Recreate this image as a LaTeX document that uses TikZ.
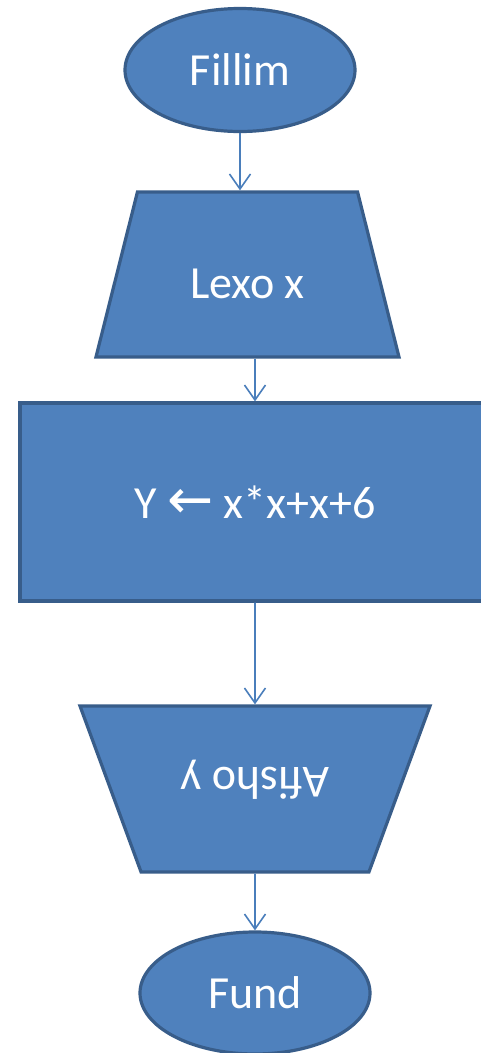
\documentclass[tikz,border=0pt]{standalone}
\usepackage{fontspec}
\setmainfont{Carlito}
\newfontfamily\symfont{DejaVu Sans}
\usetikzlibrary{shapes.geometric,arrows.meta}
\definecolor{boxfill}{HTML}{4F81BD}
\definecolor{boxline}{HTML}{385D8A}
\definecolor{arrowline}{HTML}{4A7EBB}
\begin{document}
\begin{tikzpicture}[x=1pt,y=-1pt,
  shapebase/.style={fill=boxfill,draw=boxline,line width=3.2pt,text=white,inner sep=0pt,
    font=\fontsize{46}{55}\selectfont},
  terminal/.style={shapebase,ellipse,minimum width=230pt,minimum height=123pt},
  iobox/.style={shapebase,trapezium,trapezium stretches body=true,inner xsep=0pt},
  procbox/.style={shapebase,rectangle,minimum width=470pt,minimum height=198pt},
  flow/.style={draw=arrowline,line width=1.6pt,-{Straight Barb[length=15pt,width=21pt,line width=1.6pt]}}
]
\useasboundingbox[fill=white] (0,0) rectangle (481,1053);
\node[terminal] (start) at (240,70) {Fillim};
\node[iobox,trapezium angle=75.9,minimum width=303pt,inner ysep=59pt,
  text height=47pt,text depth=0pt] (input) at (247.5,274.5) {Lexo x};
\node[procbox] (calc) at (255,502) {Y {\symfont\scalebox{1.2}{←}} x*x+x+6};
\node[iobox,rotate=180,trapezium angle=69.8,minimum width=350pt,inner ysep=52pt,
  text height=53pt,text depth=9pt] (output) at (255,789) {Afisho y};
\node[terminal,minimum height=122pt] (stop) at (255,993) {Fund};
\draw[flow] (start.south) -- (start.south |- input.north);
\draw[flow] (calc.north |- input.south) -- (calc.north);
\draw[flow] (calc.south) -- (output.south);
\draw[flow] (output.north) -- (stop.north);
\end{tikzpicture}
\end{document}
